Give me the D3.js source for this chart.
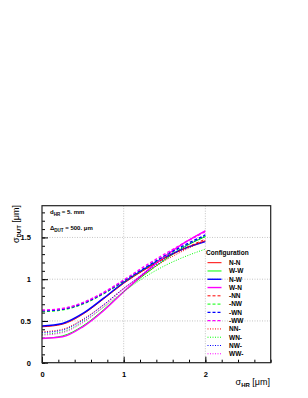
<!DOCTYPE html>
<html>
<head>
<meta charset="utf-8">
<script src="https://cdn.jsdelivr.net/npm/d3@7"></script>
<style>
  body { margin: 0; background: #fff; }
  svg { display: block; }
  text { font-family: "Liberation Sans", Arial, sans-serif; }
</style>
</head>
<body>
<div id="chart-area"></div>
<script>
const W = 308, H = 398
const MARGIN = { LEFT: 42, RIGHT: 37.3, TOP: 205.7, BOTTOM: 35.3 }
const WIDTH = W - MARGIN.LEFT - MARGIN.RIGHT
const HEIGHT = H - MARGIN.TOP - MARGIN.BOTTOM

// sigma_HR values where the curves were sampled
const sigmaHR = [0, 0.25, 0.5, 0.75, 1, 1.25, 1.5, 1.75, 2]

const seriesNames = ["N-N", "W-W", "N-W", "W-N", "-NN", "-NW", "-WN", "-WW", "NN-", "WN-", "NW-", "WW-"]

// sigma_DUT, one list per configuration
const sNN  = [0.43, 0.46, 0.58, 0.76, 0.95, 1.11, 1.25, 1.37, 1.46]
const sWW  = [0.29, 0.32, 0.44, 0.63, 0.85, 1.05, 1.23, 1.39, 1.51]
const sNW  = [0.44, 0.47, 0.59, 0.77, 0.96, 1.12, 1.26, 1.37, 1.45]
const sWN  = [0.29, 0.31, 0.43, 0.62, 0.85, 1.07, 1.27, 1.44, 1.58]
const dNN  = [0.62, 0.64, 0.71, 0.83, 0.97, 1.11, 1.25, 1.37, 1.48]
const dNW  = [0.61, 0.63, 0.70, 0.82, 0.97, 1.12, 1.27, 1.40, 1.51]
const dWN  = [0.62, 0.64, 0.71, 0.83, 0.98, 1.13, 1.28, 1.41, 1.53]
const dWW  = [0.63, 0.65, 0.72, 0.84, 0.99, 1.15, 1.30, 1.44, 1.57]
const pNN  = [0.37, 0.40, 0.52, 0.69, 0.89, 1.06, 1.22, 1.35, 1.46]
const pWN  = [0.34, 0.37, 0.49, 0.66, 0.85, 1.02, 1.16, 1.27, 1.36]
const pNW  = [0.36, 0.39, 0.51, 0.69, 0.89, 1.07, 1.24, 1.39, 1.52]
const pWW  = [0.33, 0.36, 0.48, 0.67, 0.88, 1.08, 1.27, 1.44, 1.58]

const seriesValues = [sNN, sWW, sNW, sWN, dNN, dNW, dWN, dWW, pNN, pWN, pNW, pWW]

const xTicks = [0, 1, 2]
const yTicks = [0, 0.5, 1, 1.5]

const colors = ["#ff0000", "#00ff00", "#0000ff", "#ff00ff"]
const dashes = [null, "3,2", "1,1.5"]

const svg = d3.select("#chart-area").append("svg")
  .attr("width", W)
  .attr("height", H)

const g = svg.append("g")
  .attr("transform", `translate(${MARGIN.LEFT}, ${MARGIN.TOP})`)

const x = d3.scaleLinear().domain([0, 2.8]).range([0, WIDTH])
const y = d3.scaleLinear().domain([0, 1.88]).range([HEIGHT, 0])

// grid
g.selectAll(".gx").data(xTicks.slice(1)).enter().append("line")
  .attr("x1", d => x(d)).attr("x2", d => x(d))
  .attr("y1", 0).attr("y2", HEIGHT)
  .attr("stroke", "#aaa").attr("stroke-width", 0.7).attr("stroke-dasharray", "1,1.5")
g.selectAll(".gy").data(yTicks.slice(1)).enter().append("line")
  .attr("x1", 0).attr("x2", WIDTH)
  .attr("y1", d => y(d)).attr("y2", d => y(d))
  .attr("stroke", "#aaa").attr("stroke-width", 0.7).attr("stroke-dasharray", "1,1.5")

// minor ticks
g.append("g")
  .attr("transform", `translate(0, ${HEIGHT})`)
  .call(d3.axisBottom(x).tickValues(d3.range(0, 2.81, 0.2)).tickSize(-3).tickFormat(""))
  .call(a => a.select(".domain").remove())
g.append("g")
  .call(d3.axisLeft(y).tickValues(d3.range(0, 1.85, 0.1)).tickSize(-3).tickFormat(""))
  .call(a => a.select(".domain").remove())

// major ticks + labels
g.append("g")
  .attr("transform", `translate(0, ${HEIGHT})`)
  .call(d3.axisBottom(x).tickValues(xTicks).tickSize(-6).tickPadding(9).tickFormat(d3.format("")))
  .call(a => a.select(".domain").remove())
  .selectAll("text")
    .attr("font-size", "7.5px").attr("font-weight", "bold").attr("fill", "#000")
g.append("g")
  .call(d3.axisLeft(y).tickValues(yTicks).tickSize(-6).tickPadding(11).tickFormat(d3.format("")))
  .call(a => a.select(".domain").remove())
  .selectAll("text")
    .attr("font-size", "7.5px").attr("font-weight", "bold").attr("fill", "#000")

// curves
const line = d3.line()
  .x((d, i) => x(sigmaHR[i]))
  .y(d => y(d))
  .curve(d3.curveMonotoneX)

seriesValues.forEach((vals, i) => {
  const c = i % 4
  const style = Math.floor(i / 4)
  g.append("path")
    .datum(vals)
    .attr("d", line)
    .attr("fill", "none")
    .attr("stroke", colors[c])
    .attr("stroke-width", style < 2 && c >= 2 ? 1.4 : 1)
    .attr("stroke-dasharray", dashes[style])
})

// frame
g.append("rect")
  .attr("width", WIDTH).attr("height", HEIGHT)
  .attr("fill", "none").attr("stroke", "#222").attr("stroke-width", 1.2)

// axis titles
const xt = svg.append("text")
  .attr("x", 270).attr("y", 385)
  .attr("text-anchor", "end")
  .attr("font-size", "9px")
xt.append("tspan").text("σ")
xt.append("tspan").attr("font-size", "6px").attr("font-weight", "bold").attr("dy", 2).text("HR")
xt.append("tspan").attr("dy", -2).text(" [μm]")

const yt = svg.append("text")
  .attr("transform", "translate(19, 205) rotate(-90)")
  .attr("text-anchor", "end")
  .attr("font-size", "9px")
yt.append("tspan").text("σ")
yt.append("tspan").attr("font-size", "6px").attr("font-weight", "bold").attr("dy", 2).text("DUT")
yt.append("tspan").attr("dy", -2).text(" [μm]")

// annotations
const a1 = svg.append("text").attr("x", 50).attr("y", 214).attr("font-size", "6px").attr("font-weight", "bold")
a1.append("tspan").text("d")
a1.append("tspan").attr("font-size", "4.5px").attr("dy", 1.5).text("HR")
a1.append("tspan").attr("dy", -1.5).text(" = 5. mm")

const a2 = svg.append("text").attr("x", 50).attr("y", 230).attr("font-size", "6px").attr("font-weight", "bold")
a2.append("tspan").text("Δ")
a2.append("tspan").attr("font-size", "4.5px").attr("dy", 1.5).text("DUT")
a2.append("tspan").attr("dy", -1.5).text(" = 500. μm")

// legend
const leg = svg.append("g").attr("transform", "translate(206, 0)")
leg.append("text")
  .attr("x", 0).attr("y", 255)
  .attr("font-size", "6.5px").attr("font-weight", "bold")
  .text("Configuration")

seriesNames.forEach((name, i) => {
  const c = i % 4
  const style = Math.floor(i / 4)
  const ly = 262.7 + i * 8.28
  leg.append("line")
    .attr("x1", 1.5).attr("x2", 15.5)
    .attr("y1", ly).attr("y2", ly)
    .attr("stroke", colors[c])
    .attr("stroke-width", style < 2 && c >= 2 ? 1.4 : 1)
    .attr("stroke-dasharray", dashes[style])
  leg.append("text")
    .attr("x", 23).attr("y", ly + 2.3)
    .attr("font-size", "6.5px").attr("font-weight", "bold")
    .text(name)
})
</script>
</body>
</html>
